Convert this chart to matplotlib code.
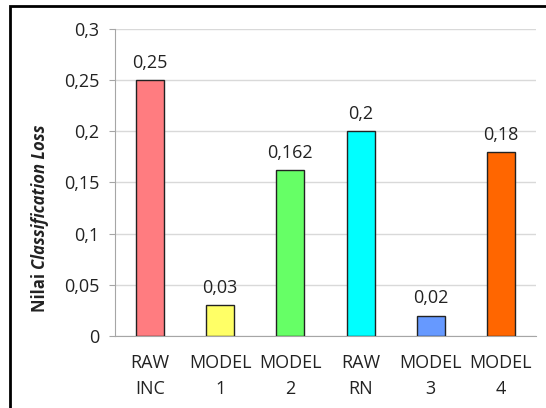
import matplotlib.pyplot as plt
from matplotlib.patches import Rectangle

categories = ['RAW\nINC', 'MODEL\n1', 'MODEL\n2', 'RAW\nRN', 'MODEL\n3', 'MODEL\n4']
values = [0.25, 0.03, 0.162, 0.2, 0.02, 0.18]
value_labels = ['0,25', '0,03', '0,162', '0,2', '0,02', '0,18']
colors = ['#FF7C80', '#FFFF66', '#66FF66', '#00FFFF', '#6699FF', '#FF6600']
yticks = [0, 0.05, 0.1, 0.15, 0.2, 0.25, 0.3]
ytick_labels = ['0', '0,05', '0,1', '0,15', '0,2', '0,25', '0,3']

plt.rcParams['font.family'] = ['Open Sans', 'DejaVu Sans']
fs = 13

fig = plt.figure(figsize=(5.46, 4.08), dpi=100)
ax = fig.add_axes([0.2106, 0.1765, 0.771, 0.7524])

x = range(len(categories))
ax.bar(x, values, width=0.4, color=colors, edgecolor='#222222', linewidth=1, zorder=3)
for i, v in enumerate(values):
    ax.text(i, v + 0.008, value_labels[i], ha='center', va='bottom', fontsize=fs, color='#222222')

ax.set_xlim(-0.5, len(categories) - 0.5)
ax.set_ylim(0, 0.3)
ax.set_yticks(yticks)
ax.set_yticklabels(ytick_labels, fontsize=fs, color='#222222')
ax.set_xticks(list(x))
ax.set_xticklabels(categories, fontsize=fs, color='#222222', linespacing=1.6)
ax.tick_params(axis='x', length=0, pad=13)
ax.tick_params(axis='y', length=4, color='#a6a6a6', pad=7)
ax.grid(axis='y', color='#d9d9d9', linewidth=1, zorder=0)
for s in ['top', 'right']:
    ax.spines[s].set_visible(False)
ax.spines['left'].set_color('#a6a6a6')
ax.spines['bottom'].set_color('#a6a6a6')

# y label: bold "Nilai" + bold italic "Classification Loss"
t1 = fig.text(40 / 546, 1 - 312 / 408, 'Nilai ', rotation=90, fontsize=12, fontweight='bold',
              ha='center', va='bottom', color='#222222')
fig.canvas.draw()
bb = t1.get_window_extent()
fig.text(40 / 546, bb.y1 / 408, 'Classification Loss', rotation=90, fontsize=12, fontweight='bold',
         fontstyle='italic', ha='center', va='bottom', color='#222222')

fig.patches.append(Rectangle((9.5 / 546, -0.1), 1.2, 1 - 6.5 / 408 + 0.1, transform=fig.transFigure,
                             fill=False, edgecolor='black', linewidth=2))

fig.savefig('out.png', dpi=100)
